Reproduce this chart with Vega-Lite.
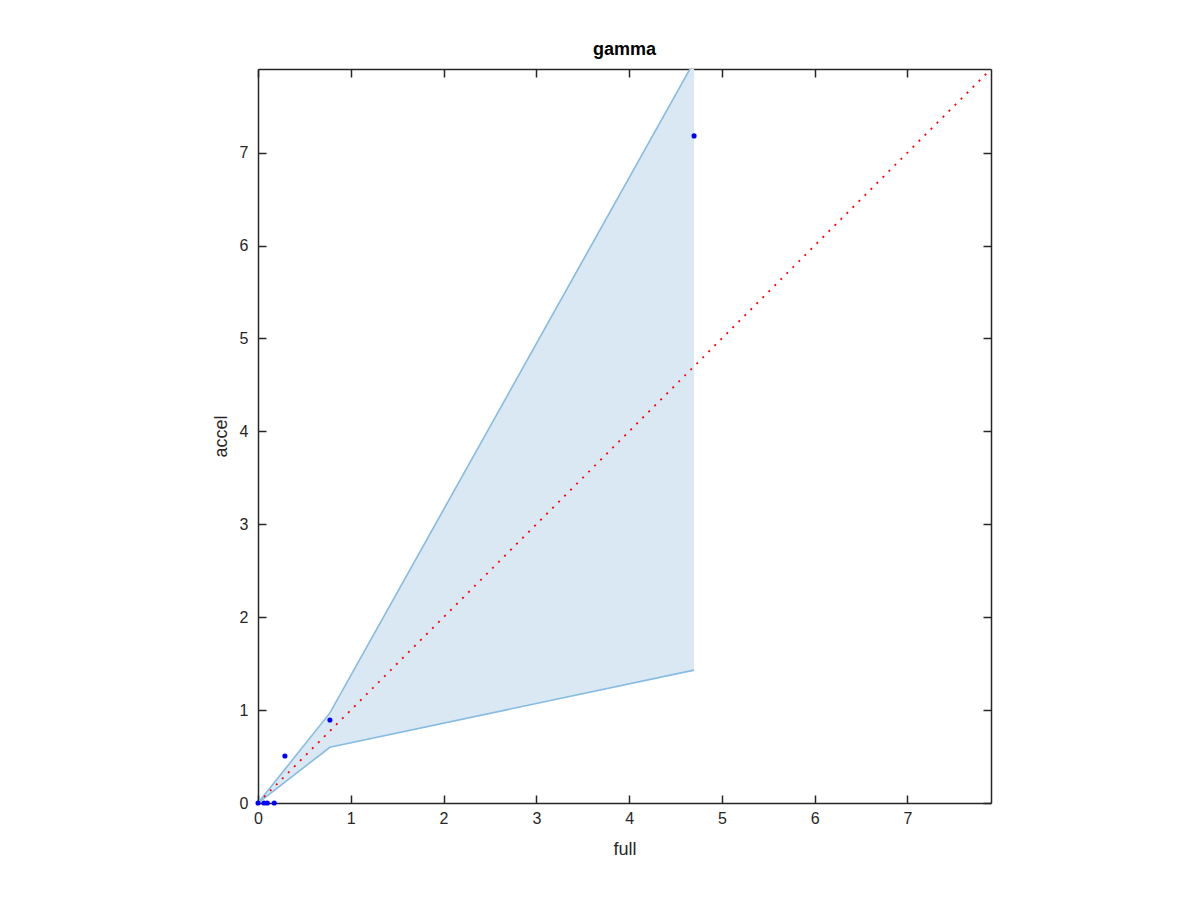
{
  "$schema": "https://vega.github.io/schema/vega-lite/v6.json",
  "width": 733,
  "height": 734,
  "autosize": {"type": "none"},
  "padding": {"left": 258, "top": 69, "right": 209, "bottom": 97},
  "background": "white",
  "title": {"text": "gamma", "font": "Liberation Sans", "fontSize": 18, "fontWeight": "bold", "color": "black", "offset": 9},
  "datasets": {
    "band": [
      {"x": 0, "lo": 0, "hi": 0},
      {"x": 0.775, "lo": 0.60, "hi": 0.97},
      {"x": 4.70, "lo": 1.43, "hi": 7.98}
    ],
    "diag": [
      {"x": 0, "y": 0},
      {"x": 7.9, "y": 7.9}
    ],
    "pts": [
      {"full": 0, "accel": 0},
      {"full": 0.065, "accel": 0},
      {"full": 0.1, "accel": 0},
      {"full": 0.175, "accel": 0},
      {"full": 0.29, "accel": 0.506},
      {"full": 0.775, "accel": 0.894},
      {"full": 4.70, "accel": 7.18}
    ]
  },
  "config": {
    "view": {"stroke": null},
    "axis": {
      "grid": false,
      "domainColor": "#262626",
      "domainWidth": 1.5,
      "tickColor": "#262626",
      "tickWidth": 1.5,
      "tickSize": -8,
      "labelColor": "#262626",
      "labelFont": "Liberation Sans",
      "labelFontSize": 16,
      "titleFont": "Liberation Sans",
      "titleFontSize": 18,
      "titleFontWeight": "normal",
      "titleColor": "#262626"
    }
  },
  "resolve": {"axis": {"x": "independent", "y": "independent"}},
  "layer": [
    {
      "data": {"name": "band"},
      "mark": {"type": "area", "color": "#d9e8f3", "clip": true},
      "encoding": {
        "x": {"field": "x", "type": "quantitative", "scale": {"domain": [0, 7.9], "nice": false},
              "axis": {"orient": "bottom", "title": "full", "values": [0,1,2,3,4,5,6,7], "format": "d", "labelPadding": 15, "titlePadding": 14, "labelFlush": false}},
        "y": {"field": "hi", "type": "quantitative", "scale": {"domain": [0, 7.9], "nice": false},
              "axis": {"orient": "left", "title": "accel", "values": [0,1,2,3,4,5,6,7], "format": "d", "labelPadding": 18, "titlePadding": 9, "labelFlush": false}},
        "y2": {"field": "lo"}
      }
    },
    {
      "data": {"name": "band"},
      "mark": {"type": "line", "color": "#86bbe2", "strokeWidth": 1.6, "clip": true},
      "encoding": {
        "x": {"field": "x", "type": "quantitative", "axis": null},
        "y": {"field": "hi", "type": "quantitative", "axis": null}
      }
    },
    {
      "data": {"name": "band"},
      "mark": {"type": "line", "color": "#86bbe2", "strokeWidth": 1.6, "clip": true},
      "encoding": {
        "x": {"field": "x", "type": "quantitative", "axis": null},
        "y": {"field": "lo", "type": "quantitative", "axis": null}
      }
    },
    {
      "data": {"name": "diag"},
      "mark": {"type": "line", "color": "#ff0000", "strokeWidth": 1.8, "strokeDash": [2, 6.5], "clip": true},
      "encoding": {
        "x": {"field": "x", "type": "quantitative", "axis": null},
        "y": {"field": "y", "type": "quantitative", "axis": null}
      }
    },
    {
      "data": {"name": "pts"},
      "mark": {"type": "circle", "color": "#0000ff", "opacity": 1, "size": 26, "clip": false},
      "encoding": {
        "x": {"field": "full", "type": "quantitative",
              "axis": {"orient": "top", "title": null, "labels": false, "values": [0,1,2,3,4,5,6,7]}},
        "y": {"field": "accel", "type": "quantitative",
              "axis": {"orient": "right", "title": null, "labels": false, "values": [0,1,2,3,4,5,6,7]}}
      }
    }
  ]
}
